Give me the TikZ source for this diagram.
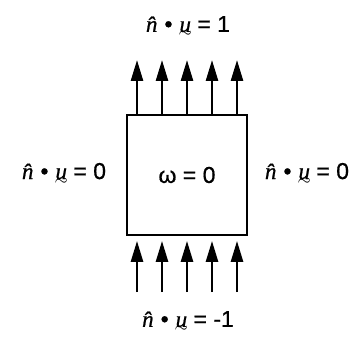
\documentclass[tikz,border=0pt]{standalone}
\usepackage{amsmath}
\usepackage{fontspec}
\setmainfont{Liberation Sans}
\newfontfamily\labelfont{Liberation Sans}[FakeBold=0.7]
\newfontfamily\varfont{Liberation Serif}[FakeBold=0.7]
\usepackage{tikz}
\usetikzlibrary{
  arrows.meta
}
\tikzset{
  cell box/.style={
    draw=black,
    line width=1.8pt,
    minimum width=120pt,
    minimum height=120pt,
    inner sep=0pt
  },
  flux arrow/.style={
    line width=2.6pt,
    -{Triangle[length=21pt,width=12pt]}
  },
  bc label/.style={
    font=\labelfont\fontsize{23}{26}\selectfont,
    inner sep=0pt
  }
}
% u mit Tilde darunter
\newcommand{\uvec}{{\varfont\itshape\setbox0\hbox{u}\rlap{u}\raisebox{-6pt}{\makebox[\wd0]{$\scriptstyle\sim$}}}}
\newcommand{\ndotu}{{\varfont\itshape\^{n}}\hspace{7pt}•\hspace{7pt}\uvec}

\begin{document}
\begin{tikzpicture}[x=1pt,y=-1pt]

    \useasboundingbox (0,0) rectangle (363,350);

    % ---------- 領域 ----------
    \node[cell box] (cell) at (187,175) {};
    \node[bc label] (vort) at (cell) {ω = 0};

    % ---------- 境界条件 ----------
    \node[bc label] (top)   at (188,27)  {\ndotu{} = 1};
    \node[bc label] (bot)   at (188,322) {\ndotu{} = -1};
    \node[bc label] (left)  at (64,174)  {\ndotu{} = 0};
    \node[bc label] (right) at (307,174) {\ndotu{} = 0};

    % ---------- 流出・流入の矢印 ----------
    \foreach \i/\x in {1/137,2/162,3/187,4/212,5/237}{
      \coordinate (out\i) at (\x,60);
      \coordinate (in\i) at (\x,292);
      \draw[flux arrow] (cell.north -| out\i) -- (out\i);
      \draw[flux arrow] (in\i) -- ([yshift=-5pt]cell.south -| in\i);
    }

  \end{tikzpicture}
\end{document}
